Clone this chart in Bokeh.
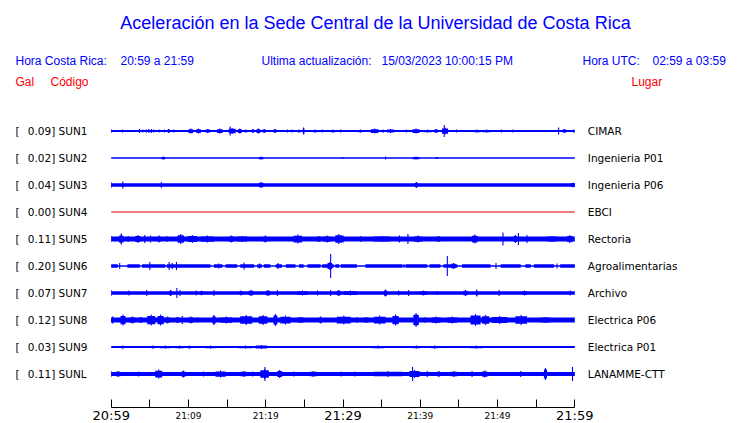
from bokeh.plotting import figure
from bokeh.models import Range1d, FixedTicker, Label, ColumnDataSource, LinearAxis
from bokeh.embed import file_html
from bokeh.resources import INLINE

# ---------------- data ----------------
TITLE = "Aceleración en la Sede Central de la Universidad de Costa Rica"
HORA_CR = "20:59 a 21:59"
HORA_UTC = "02:59 a 03:59"
ACTUALIZACION = "15/03/2023 10:00:15 PM"

codes = ["SUN1", "SUN2", "SUN3", "SUN4", "SUN5", "SUN6", "SUN7", "SUN8", "SUN9", "SUNL"]
pga_gal = ["0.09", "0.02", "0.04", "0.00", "0.11", "0.20", "0.07", "0.12", "0.03", "0.11"]
places = ["CIMAR", "Ingenieria P01", "Ingenieria P06", "EBCI", "Rectoria",
          "Agroalimentarias", "Archivo", "Electrica P06", "Electrica P01", "LANAMME-CTT"]
trace_colors = ["blue", "blue", "blue", "#dd0000", "blue", "blue", "blue", "blue", "blue", "blue"]

tick_minutes = [0, 5, 10, 15, 20, 25, 30, 35, 40, 45, 50, 55, 60]
big_tick_labels = {0: "20:59", 30: "21:29", 60: "21:59"}
small_tick_labels = {10: "21:09", 20: "21:19", 40: "21:39", 50: "21:49"}

# background (noise) half amplitude of each trace, relative units
base_amp = [0.9, 0.7, 1.8, 0.5, 2.6, 0.8, 1.8, 2.5, 0.9, 2.0]

# SUN6: intervals where its noise band is wide (elsewhere it is a thin line)
active_SUN6 = [(0, 0.85), (2.1, 3.7), (4.0, 7.0), (7.2, 12.85), (13.3, 14.4), (14.8, 16.3),
               (16.7, 18.5), (18.9, 19.5), (19.75, 20.6), (21.3, 22.1), (22.6, 23.85),
               (24.3, 24.9), (25.4, 27.1), (27.3, 28.8), (29.0, 29.5), (29.7, 31.8),
               (32.9, 37.7), (38.1, 40.9), (41.2, 42.6), (43.0, 44.8), (45.4, 49.1),
               (50.4, 53.0), (53.6, 54.3), (54.7, 57.3), (58.1, 60.0)]
active_amp_SUN6 = 1.8

# bursts: (start minute, end minute, peak half amplitude)
bursts_SUN1 = [(0, 0, 2), (1.46, 1.46, 1.5), (2.1, 2.1, 1), (3.66, 3.66, 2), (4.1, 4.1, 1.5),
               (4.57, 4.57, 1.5), (4.87, 4.87, 2), (5.2, 5.2, 2), (5.5, 5.5, 1.5), (6.2, 6.2, 1.5),
               (6.5, 6.5, 1), (6.9, 6.9, 1.5), (7.3, 7.6, 2), (8.1, 8.1, 1.5), (8.5, 8.5, 1),
               (9.0, 9.0, 1), (9.5, 9.5, 1), (10.0, 10.6, 2.5), (11.0, 11.6, 2.5), (12.2, 12.8, 2),
               (13.7, 14.4, 2.5), (15.2, 16.1, 3), (15.4, 15.4, 4.5), (16.4, 16.9, 2.5),
               (17.25, 17.6, 1.5), (18.2, 18.5, 2), (18.8, 19.3, 2.5), (19.6, 20.0, 2),
               (20.5, 20.5, 1), (21.0, 21.4, 2), (21.9, 21.9, 1), (22.8, 22.8, 1.5), (23.4, 23.4, 1.5),
               (24.1, 24.5, 1.5), (24.8, 25.0, 3.5), (26.1, 26.7, 1.5), (27.3, 27.3, 1.5),
               (28.4, 29.0, 1.5), (29.7, 29.7, 1.5), (32.0, 32.5, 1.5), (33.6, 34.6, 2.5),
               (35.1, 35.3, 1.5), (35.7, 36.6, 2), (37.2, 38.0, 1), (38.2, 38.2, 1.5),
               (39.0, 39.9, 2.5), (40.4, 41.5, 1.5), (41.8, 42.3, 2), (42.8, 43.6, 3.5),
               (43.1, 43.1, 6), (44.7, 44.7, 1.5), (46.9, 47.8, 1.5), (48.1, 49.1, 1.5),
               (50.5, 50.5, 1.5), (51.2, 51.2, 1), (52.0, 52.0, 1.5), (53.3, 53.3, 1),
               (54.7, 54.7, 1), (57.9, 57.9, 3.5), (58.4, 58.9, 2), (59.7, 60.0, 1.5)]
bursts_SUN2 = [(6.5, 7.0, 1.5), (19.1, 19.7, 1.5), (30.0, 30.0, 1), (35.5, 35.5, 1.5),
               (39.0, 39.9, 1.5), (42.0, 42.3, 1)]
bursts_SUN3 = [(0, 0.1, 2.5), (1.5, 1.5, 3.5), (6.5, 6.5, 3), (19.1, 19.7, 3), (39.3, 39.7, 3),
               (59.5, 60, 2.3)]
bursts_SUN4 = []
bursts_SUN5 = [(0, 0, 3), (1.0, 1.6, 4.5), (1.3, 1.3, 5.5), (2.2, 2.2, 3), (3.1, 3.8, 4),
               (4.35, 4.35, 4), (5.1, 5.1, 3.5), (6.0, 6.4, 3.5), (7.2, 7.2, 3), (8.6, 9.4, 5),
               (9.9, 11.1, 4), (11.6, 13.3, 3.5), (15.2, 15.9, 3.5), (16.3, 17.6, 3),
               (19.7, 20.2, 3.5), (23.6, 24.7, 4.5), (26.7, 27.1, 3), (27.5, 28.4, 3.5),
               (29.0, 29.9, 5), (29.9, 30.1, 3.5), (32.3, 32.3, 3), (34.0, 36.1, 3),
               (37.2, 37.4, 3.5), (38.4, 38.4, 5), (39.2, 40.2, 3.5), (42.2, 42.6, 3),
               (46.7, 47.4, 4.5), (50.7, 50.7, 6.5), (52.1, 52.5, 4), (52.7, 52.7, 6),
               (53.8, 53.8, 4), (56.4, 57.7, 3), (59.0, 59.7, 4)]
bursts_SUN6 = [(1.1, 1.1, 3), (5.0, 5.0, 4), (7.5, 7.5, 4), (7.9, 7.9, 3), (8.45, 8.45, 4),
               (13.9, 13.9, 2.5), (17.2, 17.2, 3.5), (19.2, 19.2, 2.5), (21.6, 21.6, 3),
               (28.0, 28.6, 4), (28.4, 28.4, 12), (37.9, 37.9, 2), (43.5, 43.5, 10),
               (44.0, 44.6, 3), (49.8, 49.8, 3), (57.7, 57.7, 2.5)]
bursts_SUN7 = [(0, 0, 3), (2.3, 2.3, 2.5), (4.6, 4.6, 3), (7.5, 7.9, 3), (8.5, 8.5, 5),
               (8.9, 8.9, 3), (11.0, 11.0, 2.5), (11.5, 11.9, 2.2), (13.3, 13.3, 3),
               (16.6, 17.0, 2.5), (17.8, 18.4, 3), (20.0, 20.6, 3), (21.5, 21.5, 3),
               (24.1, 25.4, 2.5), (26.7, 26.7, 2.5), (28.4, 28.4, 3), (29.2, 29.7, 3),
               (30.1, 31.8, 2.5), (35.3, 35.7, 3.5), (37.2, 37.2, 2.5), (38.5, 38.5, 3),
               (40.0, 40.8, 2.5), (42.2, 42.2, 2), (45.6, 46.1, 3), (47.2, 47.4, 3.5),
               (50.2, 50.2, 3), (53.2, 53.8, 2.5), (59.4, 59.4, 2.5)]
bursts_SUN8 = [(0, 0.35, 3.5), (1.2, 1.85, 5.5), (2.4, 3.1, 3.5), (3.6, 4.0, 3), (4.65, 5.7, 5.5),
               (6.0, 6.8, 5.5), (7.0, 7.6, 3.5), (8.4, 8.8, 3), (9.2, 9.2, 4), (10.0, 10.65, 3.5),
               (11.2, 11.2, 2.5), (13.1, 13.5, 5), (14.15, 15.65, 3.5), (16.7, 18.25, 5),
               (19.1, 20.2, 5), (21.0, 21.5, 6), (21.9, 23.2, 4.5), (24.1, 24.9, 3),
               (26.9, 27.3, 3.5), (29.2, 31.0, 4.5), (31.8, 31.8, 3), (32.7, 33.3, 2.5),
               (34.0, 35.5, 4.5), (36.4, 37.2, 5.5), (39.1, 39.8, 7), (40.6, 40.6, 3),
               (41.5, 42.6, 3.5), (43.5, 44.8, 3.5), (46.5, 47.8, 6), (48.0, 48.9, 5),
               (49.3, 51.25, 4), (52.3, 53.8, 5), (55.6, 56.8, 3)]
bursts_SUN9 = [(1.3, 1.7, 1.5), (2.8, 2.8, 1), (3.4, 4.0, 1), (4.6, 4.6, 1), (5.2, 5.6, 1.5),
               (6.3, 7.7, 1.5), (8.3, 9.4, 1.5), (9.9, 10.35, 1.5), (12.2, 13.5, 1.5),
               (14.2, 15.5, 1), (16.5, 18.25, 1.5), (18.7, 20.2, 2), (21.5, 21.5, 1),
               (22.4, 22.4, 1), (24.5, 24.5, 1), (27.0, 27.0, 1), (28.0, 28.0, 1), (29.0, 29.0, 1),
               (29.5, 30.0, 1), (30.4, 30.4, 1), (31.0, 31.0, 1), (32.7, 32.7, 1),
               (33.8, 35.3, 1.5), (36.7, 37.3, 1), (39.0, 40.0, 1.5), (41.4, 42.3, 1.5),
               (45.0, 46.0, 1), (46.5, 48.0, 1.5), (50.8, 50.8, 1), (52.8, 53.3, 1), (55.7, 56.5, 1)]
bursts_SUNL = [(0, 0, 3), (0.6, 1.2, 3), (2.9, 4.2, 2.5), (5.7, 6.6, 4.5), (9.1, 9.6, 3.5),
               (11.5, 12.4, 2.5), (13.5, 14.8, 3.5), (16.7, 17.6, 3), (18.3, 18.3, 2.5),
               (19.3, 20.4, 5), (19.9, 19.9, 7), (21.5, 22.1, 4), (23.0, 24.3, 2.5),
               (25.7, 26.6, 3), (28.8, 30.7, 2.5), (30.7, 32.4, 2.5), (34.0, 37.7, 3),
               (38.6, 39.9, 4), (39.0, 39.0, 7), (40.9, 40.9, 3), (42.2, 42.6, 3), (43.9, 44.8, 3),
               (46.7, 46.7, 3), (48.0, 48.7, 3.5), (53.0, 53.0, 3), (56.0, 56.4, 6), (59.7, 59.7, 7)]

all_bursts = [bursts_SUN1, bursts_SUN2, bursts_SUN3, bursts_SUN4, bursts_SUN5,
              bursts_SUN6, bursts_SUN7, bursts_SUN8, bursts_SUN9, bursts_SUNL]

# ---------------- layout (pixels) ----------------
FIG_W = 740
FRAME_H = 407
X_MIN0 = 110.7          # screen x of minute 0
PX_PER_MIN = 7.727
ROW0 = 130.5            # screen y of first trace
ROW_STEP = 27
SPIKE_W = 0.07          # half width (minutes) of an isolated spike
CORE = 0.75             # burst core height relative to its peak

x0 = -X_MIN0 / PX_PER_MIN
x1 = (FIG_W - X_MIN0) / PX_PER_MIN

p = figure(frame_width=FIG_W, frame_height=FRAME_H,
           x_range=Range1d(x0, x1),
           y_range=Range1d(FRAME_H, 0),
           output_backend="svg", toolbar_location=None, tools="",
           y_axis_location=None, min_border=0)
p.grid.visible = False
p.outline_line_color = None
p.background_fill_color = "white"
p.border_fill_color = "white"

# traces
L, R, B, T, C = [], [], [], [], []

def add_quad(a, b, yc, h, col):
    L.append(a); R.append(b); B.append(yc - h); T.append(yc + h); C.append(col)

for k, code in enumerate(codes):
    yc = ROW0 + ROW_STEP * k
    col = trace_colors[k]
    add_quad(tick_minutes[0], tick_minutes[-1], yc, base_amp[k], col)
    if code == "SUN6":
        for (a, b) in active_SUN6:
            add_quad(a, b, yc, active_amp_SUN6, col)
    for (a, b, amp) in all_bursts[k]:
        m = (a + b) / 2
        sa = max(tick_minutes[0], m - SPIKE_W)
        sb = min(tick_minutes[-1], m + SPIKE_W)
        if b - a < 2 * SPIKE_W:
            add_quad(sa, sb, yc, amp, col)
        else:
            add_quad(a, b, yc, max(base_amp[k], amp * CORE), col)
            add_quad(sa, sb, yc, amp, col)

src = ColumnDataSource(dict(left=L, right=R, bottom=B, top=T, color=C))
p.quad(left="left", right="right", bottom="bottom", top="top", source=src,
       fill_color="color", line_color=None)

# time axis (ticks + large labels)
ax = p.xaxis[0]
ax.ticker = FixedTicker(ticks=tick_minutes, minor_ticks=[])
ax.major_label_overrides = {m: big_tick_labels.get(m, "") for m in tick_minutes}
ax.bounds = (tick_minutes[0], tick_minutes[-1])
ax.major_tick_in = 8
ax.major_tick_out = 0
ax.minor_tick_in = 0
ax.minor_tick_out = 0
ax.axis_line_color = "black"
ax.major_tick_line_color = "black"
ax.major_label_text_font = "DejaVu Sans"
ax.major_label_text_font_size = "13px"
ax.major_label_text_color = "black"
ax.major_label_standoff = 0

# second axis carrying the small intermediate labels, pulled up beside the large ones
ax2 = LinearAxis(ticker=FixedTicker(ticks=list(small_tick_labels), minor_ticks=[]),
                 major_label_overrides=small_tick_labels,
                 bounds=(tick_minutes[0], tick_minutes[-1]),
                 axis_line_color=None, major_tick_line_color=None, minor_tick_line_color=None,
                 major_tick_in=0, major_tick_out=0, minor_tick_in=0, minor_tick_out=0,
                 major_label_text_font="DejaVu Sans", major_label_text_font_size="9px",
                 major_label_text_color="black", major_label_standoff=-15)
p.add_layout(ax2, "below")

def add_text(x, y, text, size="12px", color="blue", font="Liberation Sans", align="left"):
    p.add_layout(Label(x=x, y=y, x_units="screen", y_units="data", text=text,
                       text_font=font, text_font_size=size, text_color=color,
                       text_align=align, text_baseline="middle"))

add_text(375, 22, TITLE, size="18px", align="center")
add_text(15, 60, "Hora Costa Rica:")
add_text(120, 60, HORA_CR)
add_text(261, 60, "Ultima actualización:")
add_text(381, 60, ACTUALIZACION)
add_text(582, 60, "Hora UTC:")
add_text(652, 60, HORA_UTC)
add_text(15, 81, "Gal", color="red")
add_text(50, 81, "Código", color="red")
add_text(631, 81, "Lugar", color="red")

for k, code in enumerate(codes):
    yc = ROW0 + ROW_STEP * k
    add_text(15, yc, "[", size="10.5px", color="black", font="DejaVu Sans")
    add_text(27.3, yc, pga_gal[k] + "] " + code, size="10.5px", color="black", font="DejaVu Sans")
    add_text(587.3, yc, places[k], size="10.5px", color="black", font="DejaVu Sans")

open("out.html", "w").write(file_html(p, INLINE))
